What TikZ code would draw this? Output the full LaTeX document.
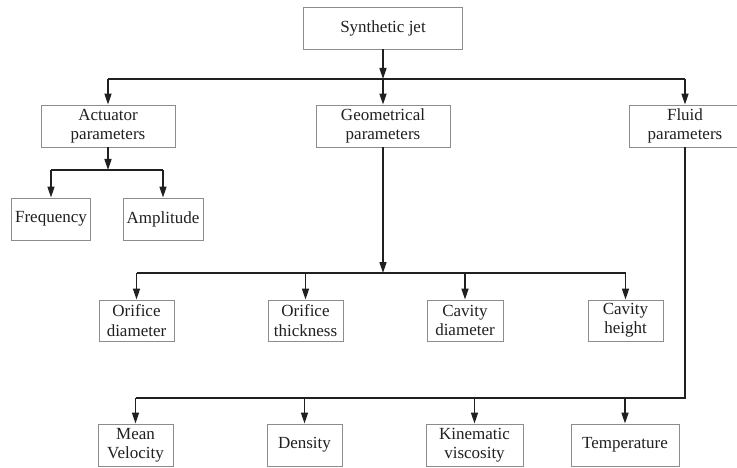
\documentclass[tikz,border=0pt]{standalone}
\usepackage{fontspec}
\setmainfont{Liberation Serif}
\usetikzlibrary{arrows.meta,positioning}
\definecolor{boxgray}{HTML}{8C8C8C}
\definecolor{inkdk}{HTML}{202020}
\tikzset{
  pbox/.style = {draw=boxgray, line width=0.9pt, fill=white, align=center,
                 inner sep=1pt, minimum height=42pt, text=inkdk,
                 font=\fontsize{17}{19.3}\selectfont},
  link/.style = {draw=inkdk, line width=1.6pt},
  arr/.style  = {link, -{Triangle[length=11pt,width=7pt]}},
}
\begin{document}
\begin{tikzpicture}[x=1pt, y=-1pt]
    \useasboundingbox (0,0) rectangle (737,468);
    % boxes
    \node[pbox, minimum width=159pt] (jet) at (383,28) {Synthetic jet};
    \node[pbox, minimum width=134pt] (act) at (108,126) {Actuator\\parameters};
    \node[pbox, minimum width=134pt] (geo) at (383,126) {Geometrical\\parameters};
    \node[pbox, minimum width=112pt] (fld) at (685,126) {Fluid\\parameters};
    \node[pbox, minimum width=79pt] (freq) at (51,219) {Frequency};
    \node[pbox, minimum width=80pt] (amp) at (163,219) {Amplitude};
    \node[pbox, minimum width=75pt, minimum height=41pt] (od) at (136.5,320.5) {Orifice\\diameter};
    \node[pbox, minimum width=75pt, minimum height=41pt] (ot) at (305.5,320.5) {Orifice\\thickness};
    \node[pbox, minimum width=76pt, minimum height=41pt] (cd) at (465,320.5) {Cavity\\diameter};
    \node[pbox, minimum width=75pt, minimum height=41pt] (ch) at (625.5,320.5) {Cavity\\height};
    \node[pbox, minimum width=75pt] (mv) at (135.5,445) {Mean\\Velocity};
    \node[pbox, minimum width=75pt] (den) at (304.5,445) {Density};
    \node[pbox, minimum width=97pt] (kv) at (474.5,445) {Kinematic\\viscosity};
    \node[pbox, minimum width=108pt] (temp) at (625,445) {Temperature};
    % bus levels
    \coordinate (bus0) at (0,79);
    \coordinate (bus1) at (0,170);
    \coordinate (bus2) at (0,273);
    \coordinate (bus3) at (0,398);
    % connectors
    \draw[arr] (jet.south) -- (jet.south |- bus0);
    \draw[link] (act.north |- bus0) -- (fld.north |- bus0);
    \foreach \n in {act,geo,fld}
      \draw[arr] (\n.north |- bus0) -- (\n.north);
    \draw[arr] (act.south) -- (act.south |- bus1);
    \draw[link] (freq.north |- bus1) -- (amp.north |- bus1);
    \foreach \n in {freq,amp}
      \draw[arr] (\n.north |- bus1) -- (\n.north);
    \draw[arr] (geo.south) -- (geo.south |- bus2);
    \draw[link] (od.north |- bus2) -- (ch.north |- bus2);
    \foreach \n in {od,ot,cd,ch}
      \draw[arr] (\n.north |- bus2) -- (\n.north);
    \draw[link] (fld.south) |- (mv.north |- bus3);
    \foreach \n in {mv,den,kv,temp}
      \draw[arr] (\n.north |- bus3) -- (\n.north);
\end{tikzpicture}
\end{document}
